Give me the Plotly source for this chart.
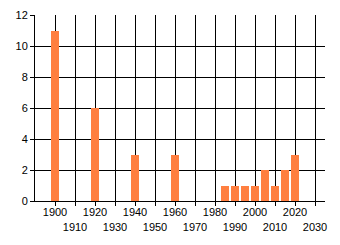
import plotly.graph_objects as go

years = [1900, 1920, 1940, 1960, 1985, 1990, 1995, 2000, 2005, 2010, 2015, 2020]
counts = [11, 6, 3, 3, 1, 1, 1, 1, 2, 1, 2, 3]
x_ticks = list(range(1900, 2031, 10))
x_labels = [str(v) if i % 2 == 0 else "<br>" + str(v) for i, v in enumerate(x_ticks)]
y_ticks = [0, 2, 4, 6, 8, 10, 12]

fig = go.Figure(go.Bar(x=years, y=counts, width=4, marker=dict(color="#FF7F40", line=dict(width=0))))

fig.update_layout(
    width=340, height=245,
    margin=dict(l=35, r=15, t=15, b=44, autoexpand=False),
    paper_bgcolor="white", plot_bgcolor="white",
    font=dict(family="Liberation Sans, Arial, sans-serif", size=11, color="black"),
    showlegend=False, bargap=0,
)
fig.update_xaxes(
    range=[1890, 2035], tickvals=x_ticks, ticktext=x_labels,
    showgrid=True, gridcolor="black", gridwidth=1,
    showline=True, linecolor="black", linewidth=1,
    ticks="outside", ticklen=4, tickcolor="black", tickangle=0,
    zeroline=False, automargin=False, ticklabelstandoff=-3,
)
fig.update_yaxes(
    range=[0, 12], tickvals=y_ticks,
    showgrid=True, gridcolor="black", gridwidth=1,
    showline=True, linecolor="black", linewidth=1,
    ticks="outside", ticklen=4, tickcolor="black",
    zeroline=False, automargin=False,
)
fig.write_html("out.html")
